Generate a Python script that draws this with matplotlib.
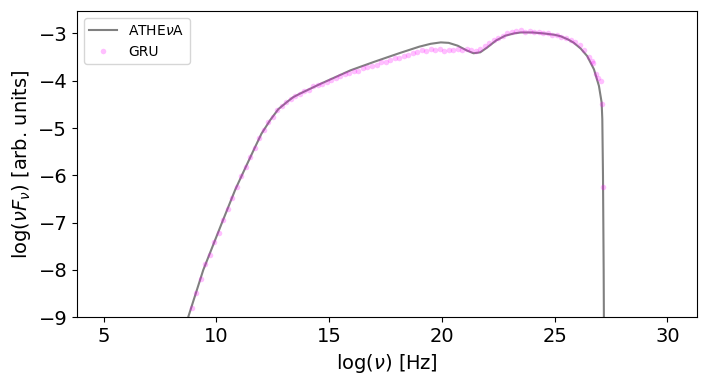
import matplotlib
matplotlib.use("Agg")
import matplotlib.pyplot as plt
import numpy as np

# ATHEvA model curve
athena_x = [8.5, 8.75, 9.42, 10.25, 10.84, 11.15, 11.65, 12.0, 12.39, 12.75, 13.13,
            13.4, 13.72, 14.6, 15.95, 17.0, 18.16, 19.0, 19.5, 19.95, 20.3, 20.7,
            21.1, 21.4, 21.7, 22.0, 22.4, 22.8, 23.2, 23.5, 24.0, 24.5, 25.0, 25.26,
            25.6, 25.85, 26.15, 26.44, 26.74, 26.96, 27.08, 27.11, 27.14, 27.17, 27.19]
athena_y = [-9.4, -9.0, -8.0, -7.0, -6.3, -5.98, -5.47, -5.12, -4.83, -4.6, -4.45,
            -4.35, -4.27, -4.07, -3.78, -3.6, -3.41, -3.28, -3.22, -3.19, -3.2, -3.26,
            -3.36, -3.42, -3.4, -3.3, -3.15, -3.05, -3.0, -2.98, -2.98, -3.0, -3.03, -3.06,
            -3.13, -3.2, -3.32, -3.48, -3.76, -4.11, -4.46, -4.81, -6.0, -8.0, -10.0]

# GRU prediction, sampled every 0.2 in log(nu) from 8.7
gru_x = np.arange(8.7, 27.0, 0.2)
gru_y = [-9.08, -8.81, -8.48, -8.20, -7.88, -7.69, -7.41, -7.21, -6.94, -6.72,
         -6.47, -6.25, -6.02, -5.83, -5.61, -5.43, -5.21, -5.05, -4.88, -4.77,
         -4.62, -4.54, -4.45, -4.39, -4.32, -4.29, -4.22, -4.19, -4.12, -4.10,
         -4.06, -4.02, -3.99, -3.94, -3.91, -3.86, -3.84, -3.80, -3.79, -3.74,
         -3.72, -3.68, -3.66, -3.61, -3.60, -3.56, -3.53, -3.51, -3.47, -3.46,
         -3.41, -3.40, -3.36, -3.37, -3.34, -3.36, -3.33, -3.37, -3.35, -3.36,
         -3.33, -3.35, -3.33, -3.36, -3.37, -3.33, -3.26, -3.20, -3.14, -3.09,
         -3.05, -3.00, -2.97, -2.95, -2.93, -2.96, -2.94, -2.97, -2.96, -2.99,
         -3.00, -3.03, -3.04, -3.08, -3.10, -3.13, -3.18, -3.24, -3.36, -3.49,
         -3.62, -3.95]
# a few extra points on the cut-off
tail_x = [26.66, 26.85, 27.03, 27.1, 27.13]
tail_y = [-3.58, -3.86, -4.0, -4.5, -6.25]

fig = plt.figure(figsize=(7.06, 3.85), dpi=100)
ax = fig.add_axes([0.109, 0.176, 0.878, 0.795])

ax.plot(athena_x, athena_y, color='gray', lw=1.5, label=r'ATHE$\nu$A')
ax.plot(np.concatenate([gru_x, tail_x]), gru_y + tail_y, 'o', color='magenta',
        alpha=0.25, markersize=4, markeredgewidth=0, label='GRU')

ax.set_xlim(3.82, 31.3)
ax.set_ylim(-9, -2.53)
ax.set_xticks([5, 10, 15, 20, 25, 30])
ax.tick_params(labelsize=14)
ax.set_xlabel(r'$\log(\nu)$ [Hz]', fontsize=14)
ax.set_ylabel(r'$\log(\nu F_{\nu})$ [arb. units]', fontsize=14)
ax.legend(loc='upper left', fontsize=10)

fig.savefig('out.png', dpi=100)
